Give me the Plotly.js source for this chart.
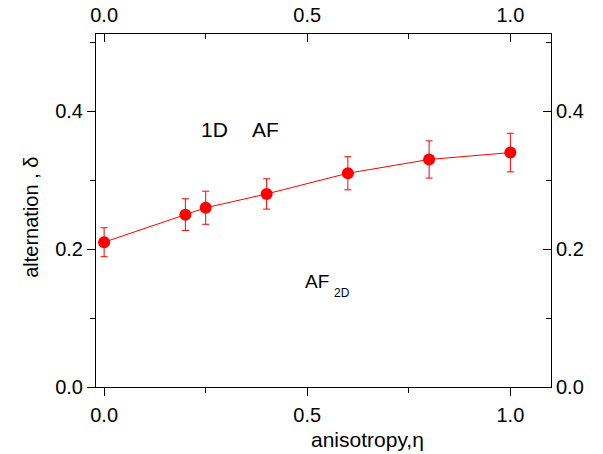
<!DOCTYPE html>
<html><head><meta charset="utf-8">
<script src="https://cdn.plot.ly/plotly-3.0.1.min.js"></script>
<style>html,body{margin:0;padding:0;background:#fff}#plot{width:603px;height:454px}</style>
</head><body><div id="plot"></div>
<script>
const anisotropy = [0.0, 0.2, 0.25, 0.4, 0.6, 0.8, 1.0];
const alternation = [0.21, 0.25, 0.26, 0.28, 0.31, 0.33, 0.34];
const errors = [0.021, 0.023, 0.024, 0.022, 0.024, 0.027, 0.028];
const xTicks = [0.0, 0.5, 1.0];
const xTickLabels = ['0.0', '0.5', '1.0'];
const yTicks = [0.0, 0.2, 0.4];
const yTickLabels = ['0.0', '0.2', '0.4'];

const FONT = 'Liberation Sans, Arial, Helvetica, sans-serif';
const red = '#ff0000';

const traces = [
  {
    x: anisotropy, y: alternation, type: 'scatter', mode: 'lines+markers',
    line: {color: red, width: 1},
    marker: {color: red, size: 12},
    error_y: {type: 'data', array: errors, visible: true, color: red, thickness: 1, width: 3.5},
    hoverinfo: 'skip', showlegend: false
  },
  {
    x: anisotropy, y: alternation, xaxis: 'x2', yaxis: 'y2', type: 'scatter', mode: 'markers',
    marker: {opacity: 0}, hoverinfo: 'skip', showlegend: false
  }
];

const common = {
  showline: true, linecolor: '#000', linewidth: 1, showgrid: false, zeroline: false,
  tickfont: {family: FONT, size: 20, color: '#000'}, tickcolor: '#000', tickwidth: 1, ticklen: 8
};

const layout = {
  width: 603, height: 454,
  margin: {l: 96, r: 52, t: 34, b: 67},
  paper_bgcolor: '#fff', plot_bgcolor: '#fff',
  font: {family: FONT, size: 20, color: '#000'},
  xaxis: Object.assign({}, common, {
    range: [-0.02, 1.1], tickmode: 'array', tickvals: xTicks, ticktext: xTickLabels,
    ticks: 'outside', mirror: false, ticklabelstandoff: 2,
    minor: {dtick: 0.25, tick0: 0, ticks: 'outside', ticklen: 5, tickcolor: '#000', tickwidth: 1}
  }),
  xaxis2: Object.assign({}, common, {
    matches: 'x', overlaying: 'x', side: 'top', anchor: 'y2',
    tickmode: 'array', tickvals: xTicks, ticktext: xTickLabels,
    ticks: 'inside', ticklabelstandoff: 3,
    minor: {dtick: 0.25, tick0: 0, ticks: 'inside', ticklen: 5, tickcolor: '#000', tickwidth: 1}
  }),
  yaxis: Object.assign({}, common, {
    range: [0, 0.512], tickmode: 'array', tickvals: yTicks, ticktext: yTickLabels,
    ticks: 'outside',
    minor: {dtick: 0.1, tick0: 0, ticks: 'outside', ticklen: 5, tickcolor: '#000', tickwidth: 1}
  }),
  yaxis2: Object.assign({}, common, {
    matches: 'y', overlaying: 'y', side: 'right', anchor: 'x2',
    tickmode: 'array', tickvals: yTicks, ticktext: yTickLabels,
    ticks: 'inside',
    minor: {dtick: 0.1, tick0: 0, ticks: 'inside', ticklen: 5, tickcolor: '#000', tickwidth: 1}
  }),
  annotations: [
    {text: 'anisotropy,η', xref: 'paper', yref: 'paper', x: 0.597, y: -0.150,
     xanchor: 'center', yanchor: 'middle', showarrow: false, font: {family: FONT, size: 21}},
    {text: 'alternation , δ', xref: 'paper', yref: 'paper', x: -0.143, y: 0.482, textangle: -90,
     xanchor: 'center', yanchor: 'middle', showarrow: false, font: {family: FONT, size: 20}},
    {text: '1D', xref: 'paper', yref: 'paper', x: 0.2604, y: 0.7295,
     xanchor: 'center', yanchor: 'middle', showarrow: false, font: {family: FONT, size: 21}},
    {text: 'AF', xref: 'paper', yref: 'paper', x: 0.3725, y: 0.7295,
     xanchor: 'center', yanchor: 'middle', showarrow: false, font: {family: FONT, size: 21}},
    {text: 'AF', xref: 'paper', yref: 'paper', x: 0.486, y: 0.299,
     xanchor: 'center', yanchor: 'middle', showarrow: false, font: {family: FONT, size: 19}},
    {text: '2D', xref: 'paper', yref: 'paper', x: 0.541, y: 0.266,
     xanchor: 'center', yanchor: 'middle', showarrow: false, font: {family: FONT, size: 12}}
  ]
};

Plotly.newPlot('plot', traces, layout, {staticPlot: true, displayModeBar: false});
</script>
</body></html>
